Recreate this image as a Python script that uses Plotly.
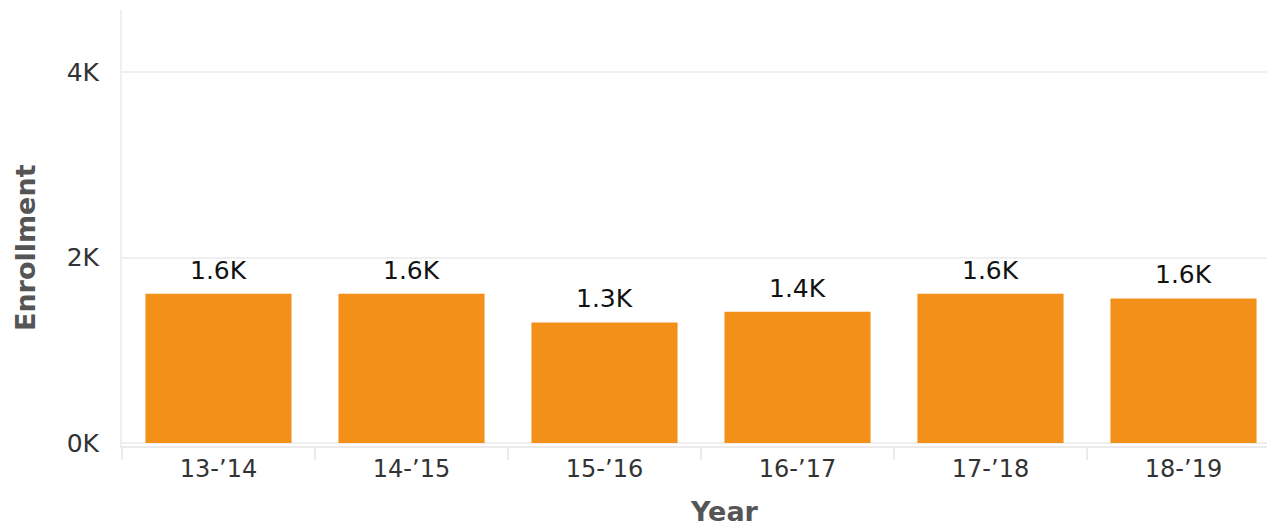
import plotly.graph_objects as go

years = ["13-\u201914", "14-\u201915", "15-\u201916", "16-\u201917", "17-\u201918", "18-\u201919"]
enrollment = [1610, 1610, 1300, 1415, 1610, 1560]
y_tick_vals = [0, 2000, 4000]
y_tick_text = ["0K", "2K", "4K"]

labels = [f"{v/1000:.1f}K" for v in enrollment]
FONT = "DejaVu Sans, Open Sans, sans-serif"

fig = go.Figure(go.Bar(
    x=years, y=enrollment,
    marker=dict(color="#F39019", line=dict(width=0)),
    hoverinfo="x+y",
))

for yr, v, lab in zip(years, enrollment, labels):
    fig.add_annotation(x=yr, y=v, text=lab, showarrow=False, yanchor="bottom",
                       yshift=7, font=dict(family=FONT, size=25, color="#111111"))

# page body has an 8px margin: figure sized so the plot sits where the reference has it
fig.update_layout(
    width=1267, height=519,
    margin=dict(l=114, r=0, t=2, b=81),
    plot_bgcolor="white", paper_bgcolor="white",
    bargap=0.243,
    showlegend=False,
    font=dict(family=FONT, color="#333333"),
)
fig.add_annotation(text="Enrollment", xref="paper", yref="paper", x=(25 - 122) / 1153, y=0.454,
                   xanchor="center", yanchor="middle", textangle=-90, showarrow=False,
                   font=dict(family=FONT, size=27, color="#555555", weight="bold"))
fig.add_annotation(text="Year", xref="paper", yref="paper", x=(724 - 122) / 1153, y=-0.151,
                   xanchor="center", yanchor="middle", showarrow=False,
                   font=dict(family=FONT, size=27, color="#555555", weight="bold"))

fig.update_xaxes(
    range=[-0.5, 5.474],
    automargin=False,
    tickfont=dict(size=24, color="#333333"),
    showline=True, linecolor="#EBEBEB", linewidth=2,
    ticks="outside", tickson="boundaries", ticklen=12, tickcolor="#EBEBEB", tickwidth=2,
    showgrid=False,
)
fig.update_yaxes(
    automargin=False,
    range=[-32, 4670],
    tickvals=y_tick_vals, ticktext=y_tick_text,
    tickfont=dict(size=25, color="#333333"),
    showgrid=True, gridcolor="#EFEFEF", gridwidth=2,
    showline=True, linecolor="#EFEFEF", linewidth=2,
    zeroline=False,
    ticks="", ticklabelstandoff=16,
)
fig.add_hline(y=0, line=dict(color="#D8D8D8", width=1.5, dash="dot"), layer="below")

fig.write_html("out.html")
